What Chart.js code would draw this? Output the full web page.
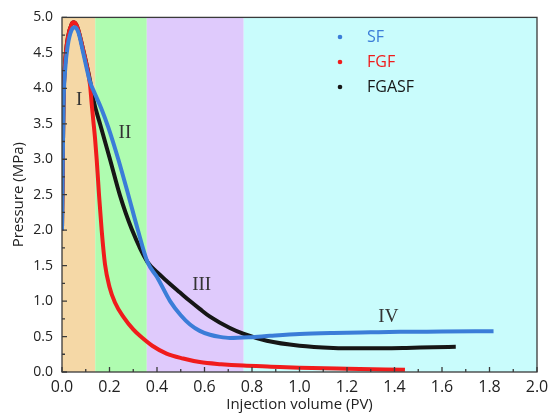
<!DOCTYPE html>
<html>
<head>
<meta charset="utf-8">
<script src="https://cdn.jsdelivr.net/npm/chart.js@4.4.1/dist/chart.umd.min.js"></script>
<style>
  html, body { margin: 0; padding: 0; background: #fff; }
  #wrap { width: 555px; height: 415px; }
</style>
</head>
<body>
<div id="wrap"><canvas id="myChart"></canvas></div>
<script>
// injection volume (PV) and pressure (MPa)
const sfX = [0, 0.006, 0.013, 0.025, 0.04, 0.055, 0.07, 0.09, 0.118, 0.135,
  0.165, 0.195, 0.237, 0.279, 0.318, 0.36, 0.40, 0.455, 0.50, 0.539,
  0.58, 0.623, 0.665, 0.707, 0.79, 0.876, 1.0, 1.142, 1.3, 1.424, 1.6, 1.817];
const sfY = [2.0, 3.70, 4.25, 4.62, 4.82, 4.86, 4.78, 4.49, 4.09, 3.95,
  3.72, 3.45, 3.0, 2.5, 2.02, 1.55, 1.34, 1.0, 0.80, 0.67,
  0.58, 0.525, 0.495, 0.48, 0.49, 0.51, 0.535, 0.55, 0.56, 0.567, 0.57, 0.575];

const fgfX = [0, 0.006, 0.013, 0.025, 0.04, 0.05, 0.065, 0.09, 0.118, 0.125,
  0.132, 0.139, 0.146, 0.156, 0.167, 0.181, 0.2, 0.223, 0.26, 0.30,
  0.328, 0.38, 0.44, 0.51, 0.58, 0.67, 0.763, 0.88, 1.0, 1.2, 1.444];
const fgfY = [2.0, 3.75, 4.35, 4.72, 4.9, 4.93, 4.86, 4.53, 4.05, 3.78,
  3.54, 3.3, 3.0, 2.49, 2.0, 1.52, 1.2, 0.98, 0.77, 0.6,
  0.51, 0.37, 0.26, 0.19, 0.14, 0.11, 0.09, 0.075, 0.06, 0.045, 0.03];

const fgasfX = [0, 0.006, 0.013, 0.025, 0.04, 0.05, 0.065, 0.09, 0.118, 0.132,
  0.16, 0.202, 0.244, 0.293, 0.36, 0.413, 0.455, 0.497, 0.539, 0.58,
  0.623, 0.707, 0.763, 0.862, 1.0, 1.142, 1.25, 1.353, 1.45, 1.564, 1.658];
const fgasfY = [2.0, 3.75, 4.35, 4.72, 4.9, 4.93, 4.86, 4.53, 4.11, 3.84,
  3.50, 3.0, 2.49, 2.02, 1.55, 1.37, 1.24, 1.12, 1.0, 0.89,
  0.78, 0.62, 0.54, 0.44, 0.37, 0.34, 0.335, 0.335, 0.34, 0.35, 0.355];

const seriesNames = ['SF', 'FGF', 'FGASF'];

// flow stages
const stageEdges = [0, 0.14, 0.357, 0.765, 2.0];
const stageNames = ['I', 'II', 'III', 'IV'];
const stageLabelX = [0.072, 0.265, 0.588, 1.374];
const stageLabelY = [3.83, 3.37, 1.23, 0.77];

const xTicks = [0, 0.2, 0.4, 0.6, 0.8, 1.0, 1.2, 1.4, 1.6, 1.8, 2.0];
const yTicks = [0, 0.5, 1.0, 1.5, 2.0, 2.5, 3.0, 3.5, 4.0, 4.5, 5.0];

const stageColors = ['#f5d8a6', '#affcb0', '#dfcafc', '#c9fcfc'];
const lineColors = ['#3b7dd8', '#f01c1c', '#161616'];

function toPoints(xs, ys) {
  return xs.map((x, i) => ({ x: x, y: ys[i] }));
}

const stagePlugin = {
  id: 'stages',
  beforeDatasetsDraw(chart) {
    const { ctx, chartArea, scales } = chart;
    ctx.save();
    for (let i = 0; i < stageNames.length; i++) {
      const x0 = scales.x.getPixelForValue(stageEdges[i]);
      const x1 = scales.x.getPixelForValue(stageEdges[i + 1]);
      ctx.fillStyle = stageColors[i];
      ctx.fillRect(x0, chartArea.top, x1 - x0, chartArea.bottom - chartArea.top);
    }
    ctx.fillStyle = '#333';
    ctx.font = '19px "Liberation Serif", serif';
    ctx.textAlign = 'center';
    ctx.textBaseline = 'middle';
    stageNames.forEach((s, i) => {
      ctx.fillText(s, scales.x.getPixelForValue(stageLabelX[i]), scales.y.getPixelForValue(stageLabelY[i]));
    });
    ctx.restore();
  },
  afterDatasetsDraw(chart) {
    const { ctx, chartArea, scales } = chart;
    const { left, right, top, bottom } = chartArea;
    ctx.save();
    ctx.strokeStyle = '#3a3a3a';
    ctx.lineWidth = 1.3;
    ctx.strokeRect(left, top, right - left, bottom - top);
    ctx.beginPath();
    for (let v = 0; v <= 2.0001; v += 0.1) {
      const px = scales.x.getPixelForValue(v);
      const major = Math.abs(v * 5 - Math.round(v * 5)) < 1e-6;
      ctx.moveTo(px, bottom);
      ctx.lineTo(px, bottom - (major ? 5 : 3));
    }
    for (let v = 0; v <= 5.0001; v += 0.25) {
      const py = scales.y.getPixelForValue(v);
      const major = Math.abs(v * 2 - Math.round(v * 2)) < 1e-6;
      ctx.moveTo(left, py);
      ctx.lineTo(left + (major ? 5 : 3), py);
    }
    ctx.stroke();

    // legend
    ctx.font = '16px "Open Sans", sans-serif';
    ctx.textBaseline = 'middle';
    ctx.textAlign = 'left';
    seriesNames.forEach((name, i) => {
      const y = 37 + i * 25;
      ctx.beginPath();
      ctx.arc(340, y, 2.3, 0, Math.PI * 2);
      ctx.fillStyle = lineColors[i];
      ctx.fill();
      ctx.fillText(name, 367, y);
    });
    ctx.restore();
  }
};

const ctx = document.getElementById('myChart').getContext('2d');
const myChart = new Chart(ctx, {
  type: 'scatter',
  data: {
    datasets: [
      { label: seriesNames[0], data: toPoints(sfX, sfY) },
      { label: seriesNames[1], data: toPoints(fgfX, fgfY) },
      { label: seriesNames[2], data: toPoints(fgasfX, fgasfY) },
    ].map((d, i) => Object.assign(d, {
      showLine: true,
      borderColor: lineColors[i],
      backgroundColor: lineColors[i],
      borderWidth: 4,
      pointRadius: 0,
      cubicInterpolationMode: 'monotone',
    })),
  },
  options: {
    responsive: true,
    maintainAspectRatio: false,
    animation: false,
    layout: { padding: { top: 13, right: 18, left: 0, bottom: 0 } },
    plugins: { legend: { display: false }, tooltip: { enabled: false } },
    scales: {
      x: {
        type: 'linear',
        min: 0,
        max: 2,
        afterFit: (s) => { s.height = 43; },
        afterBuildTicks: (s) => { s.ticks = xTicks.map((v) => ({ value: v })); },
        grid: { display: false, drawTicks: false },
        border: { display: false },
        ticks: {
          padding: 6,
          color: '#222',
          font: { family: 'Open Sans', size: 16 },
          callback: (v) => v.toFixed(1),
        },
        title: {
          display: true,
          text: 'Injection volume (PV)',
          color: '#222',
          font: { family: 'Open Sans', size: 15 },
          padding: { top: 0, bottom: 1 },
        },
      },
      y: {
        min: 0,
        max: 5,
        afterFit: (s) => { s.width = 62; },
        afterBuildTicks: (s) => { s.ticks = yTicks.map((v) => ({ value: v })); },
        grid: { display: false, drawTicks: false },
        border: { display: false },
        ticks: {
          padding: 9,
          color: '#222',
          font: { family: 'Open Sans', size: 14 },
          callback: (v) => v.toFixed(1),
        },
        title: {
          display: true,
          text: 'Pressure (MPa)',
          color: '#222',
          font: { family: 'Open Sans', size: 15 },
          padding: { top: 10, bottom: 0 },
        },
      },
    },
  },
  plugins: [stagePlugin],
});
</script>
</body>
</html>
